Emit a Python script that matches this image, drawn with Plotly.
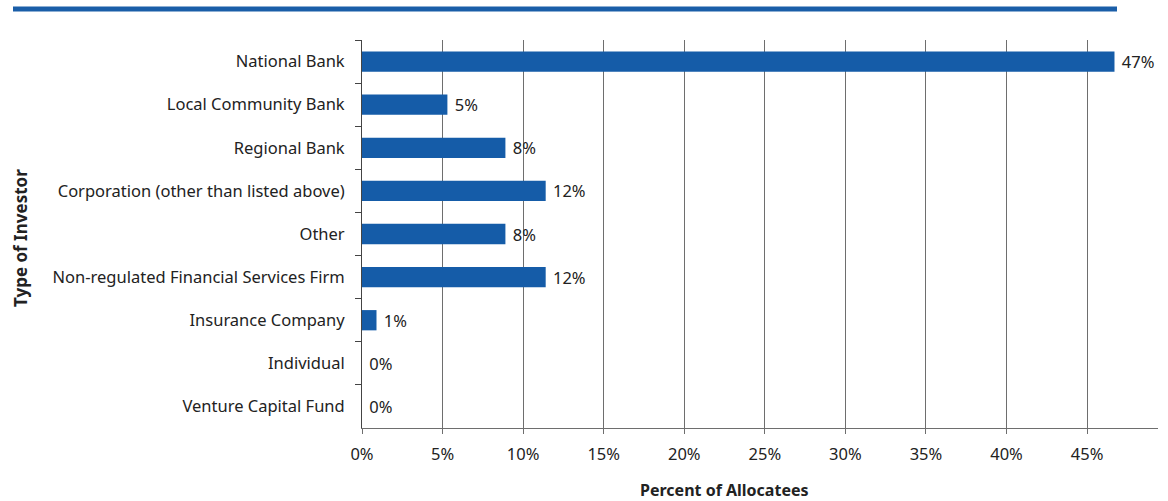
import plotly.graph_objects as go

categories = ["National Bank", "Local Community Bank", "Regional Bank",
              "Corporation (other than listed above)", "Other",
              "Non-regulated Financial Services Firm", "Insurance Company",
              "Individual", "Venture Capital Fund"]
values = [46.7, 5.3, 8.9, 11.4, 8.9, 11.4, 0.9, 0.0, 0.0]
labels = ["47%", "5%", "8%", "12%", "8%", "12%", "1%", "0%", "0%"]
tick_vals = [0, 5, 10, 15, 20, 25, 30, 35, 40, 45]
tick_text = [f"{v}%" for v in tick_vals]

FONT = "Noto Sans"
FS = 16.5
fig = go.Figure(go.Bar(
    y=categories, x=values, orientation="h",
    marker=dict(color="#155ca8", line=dict(width=0)),
    width=0.47,
    text=[" " + t for t in labels], textposition="outside", cliponaxis=False,
    constraintext="none",
    textfont=dict(family=FONT, size=FS, color="#222"),
))

fig.update_layout(
    width=1168, height=501,
    margin=dict(l=362, r=10, t=40, b=73),
    paper_bgcolor="white", plot_bgcolor="white",
    showlegend=False,
    font=dict(family=FONT, size=FS, color="#222"),
    xaxis=dict(range=[0, 49.4], tickvals=tick_vals, ticktext=tick_text,
               showgrid=True, gridcolor="#6e6e6e", gridwidth=1,
               zeroline=False, showline=True, linecolor="#6e6e6e",
               ticks="outside", ticklen=5, tickcolor="#6e6e6e",
               ticklabelstandoff=6,
               tickfont=dict(family=FONT, size=FS, color="#222")),
    yaxis=dict(autorange="reversed", showline=True, linecolor="#444",
               ticks="outside", ticklen=6, tickcolor="#444",
               tickson="boundaries", showgrid=False,
               ticklabelstandoff=13,
               tickfont=dict(family=FONT, size=FS, color="#222")),
    shapes=[dict(type="line", xref="paper", yref="paper",
                 x0=(13 - 362) / 796, x1=(1117 - 362) / 796,
                 y0=(428 - 9) / 388, y1=(428 - 9) / 388,
                 line=dict(color="#1a5ea8", width=5))],
    annotations=[
        dict(text="<b>Percent of Allocatees</b>", xref="paper", yref="paper",
             x=(724 - 362) / 796, y=(428 - 490) / 388, showarrow=False,
             xanchor="center", yanchor="middle",
             font=dict(family=FONT, size=16, color="#222")),
        dict(text="<b>Type of Investor</b>", xref="paper", yref="paper",
             x=(20 - 362) / 796, y=(428 - 238) / 388, showarrow=False,
             textangle=-90, xanchor="center", yanchor="middle",
             font=dict(family=FONT, size=17, color="#222")),
    ],
)

fig.write_html("out.html", config={"displayModeBar": False},
               post_script="document.body.style.margin='0';")
